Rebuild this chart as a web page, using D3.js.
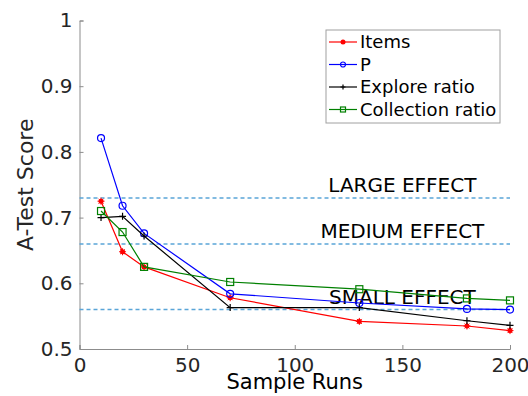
<!DOCTYPE html>
<html>
<head>
<meta charset="utf-8">
<script src="https://cdn.jsdelivr.net/npm/d3@7/dist/d3.min.js"></script>
<style>
  body { margin: 0; background: #fff; }
  svg text { font-family: "DejaVu Sans", sans-serif; }
</style>
</head>
<body>
<div id="chart"></div>
<script>
// sample runs
var runs = [10, 20, 30, 70, 130, 180, 200];

var items = [0.725, 0.648, 0.625, 0.578, 0.542, 0.535, 0.528];
var pVals = [0.821, 0.718, 0.676, 0.584, 0.570, 0.561, 0.560];
var explore = [0.700, 0.702, 0.672, 0.563, 0.563, 0.543, 0.536];
var collection = [0.710, 0.678, 0.625, 0.602, 0.591, 0.577, 0.574];

var seriesNames = ["Items", "P", "Explore ratio", "Collection ratio"];

var effectNames = ["LARGE EFFECT", "MEDIUM EFFECT", "SMALL EFFECT"];
var effectVals = [0.73, 0.66, 0.56];

var xTicks = [0, 50, 100, 150, 200];
var yTicks = [0.5, 0.6, 0.7, 0.8, 0.9, 1];

var width = 528, height = 396;
var margin = {top: 20.5, right: 18, bottom: 47, left: 79.5};
var innerW = width - margin.left - margin.right;
var innerH = height - margin.top - margin.bottom;

var svg = d3.select("#chart").append("svg")
    .attr("width", width)
    .attr("height", height);

var g = svg.append("g")
    .attr("transform", "translate(" + margin.left + "," + margin.top + ")");

var xScale = d3.scaleLinear().domain([0, 200]).range([0, innerW]);
var yScale = d3.scaleLinear().domain([0.5, 1]).range([innerH, 0]);

// axes
var xAxis = g.append("g")
    .attr("transform", "translate(0," + innerH + ")")
    .call(d3.axisBottom(xScale).tickValues(xTicks).tickSize(-4).tickPadding(9)
        .tickFormat(d3.format("d")));

var yAxis = g.append("g")
    .call(d3.axisLeft(yScale).tickValues(yTicks).tickSize(-4).tickPadding(7)
        .tickFormat(function (d) { return d === 1 ? "1" : d3.format(".1f")(d); }));

[xAxis, yAxis].forEach(function (a) {
    a.select(".domain").attr("stroke", "#8c8c8c");
    a.selectAll(".tick line").attr("stroke", "#8c8c8c");
    a.selectAll(".tick text")
        .attr("fill", "#262626")
        .style("font-size", "20px")
        .style("font-family", "DejaVu Sans, sans-serif");
});

// effect lines
effectVals.forEach(function (v, i) {
    g.append("line")
        .attr("x1", 0)
        .attr("x2", innerW)
        .attr("y1", yScale(v))
        .attr("y2", yScale(v))
        .attr("stroke", "#5aa5d8")
        .attr("stroke-width", 1.5)
        .attr("stroke-dasharray", "4,3");

    g.append("text")
        .attr("x", xScale(150))
        .attr("y", yScale(v) - 6)
        .attr("text-anchor", "middle")
        .style("font-size", "20px")
        .attr("fill", "#000")
        .text(effectNames[i]);
});

var series = [
    {name: seriesNames[0], values: items, color: "#ff0000", marker: "star"},
    {name: seriesNames[1], values: pVals, color: "#0000ff", marker: "circle"},
    {name: seriesNames[2], values: explore, color: "#000000", marker: "plus"},
    {name: seriesNames[3], values: collection, color: "#008000", marker: "square"}
];

var line = d3.line()
    .x(function (d) { return xScale(d[0]); })
    .y(function (d) { return yScale(d[1]); });

function drawMarker(sel, type, color, s) {
    if (type === "circle") {
        sel.append("circle").attr("r", s).attr("fill", "none")
            .attr("stroke", color).attr("stroke-width", 1.2);
    } else if (type === "square") {
        sel.append("rect").attr("x", -s).attr("y", -s)
            .attr("width", 2 * s).attr("height", 2 * s)
            .attr("fill", "none").attr("stroke", color).attr("stroke-width", 1.2);
    } else if (type === "plus") {
        sel.append("path").attr("d", "M" + (-s) + ",0H" + s + "M0," + (-s) + "V" + s)
            .attr("stroke", color).attr("stroke-width", 1.2);
    } else {
        sel.append("circle").attr("r", 2.5).attr("fill", color);
        sel.append("path")
            .attr("d", "M" + (-s) + ",0H" + s + "M0," + (-s) + "V" + s +
                "M" + (-s * 0.7) + "," + (-s * 0.7) + "L" + (s * 0.7) + "," + (s * 0.7) +
                "M" + (-s * 0.7) + "," + (s * 0.7) + "L" + (s * 0.7) + "," + (-s * 0.7))
            .attr("stroke", color).attr("stroke-width", 1);
    }
}

series.forEach(function (s) {
    var pts = runs.map(function (r, i) { return [r, s.values[i]]; });
    g.append("path")
        .attr("d", line(pts))
        .attr("fill", "none")
        .attr("stroke", s.color)
        .attr("stroke-width", 1.2);

    pts.forEach(function (p) {
        var m = g.append("g")
            .attr("transform", "translate(" + xScale(p[0]) + "," + yScale(p[1]) + ")");
        drawMarker(m, s.marker, s.color, 3.5);
    });
});

// legend
var legend = svg.append("g").attr("transform", "translate(326,30)");
legend.append("rect")
    .attr("width", 174)
    .attr("height", 93)
    .attr("fill", "#fff")
    .attr("stroke", "#a0a0a0");

series.forEach(function (s, i) {
    var yy = 12 + i * 22.5;
    legend.append("line")
        .attr("x1", 3).attr("x2", 31)
        .attr("y1", yy).attr("y2", yy)
        .attr("stroke", s.color).attr("stroke-width", 1.2);
    var m = legend.append("g").attr("transform", "translate(17," + yy + ")");
    if (s.marker === "star") {
        m.append("circle").attr("r", 2.5).attr("fill", s.color);
    } else {
        drawMarker(m, s.marker, s.color, 2.5);
    }
    legend.append("text")
        .attr("x", 34)
        .attr("y", yy)
        .attr("dy", "0.35em")
        .style("font-size", "18px")
        .attr("fill", "#000")
        .text(s.name);
});

// axis labels
svg.append("text")
    .attr("transform", "translate(33," + (margin.top + innerH / 2) + ") rotate(-90)")
    .attr("text-anchor", "middle")
    .style("font-size", "22px")
    .attr("fill", "#262626")
    .text("A-Test Score");

svg.append("text")
    .attr("x", margin.left + innerW / 2)
    .attr("y", 389)
    .attr("text-anchor", "middle")
    .style("font-size", "21px")
    .attr("fill", "#000")
    .text("Sample Runs");
</script>
</body>
</html>
